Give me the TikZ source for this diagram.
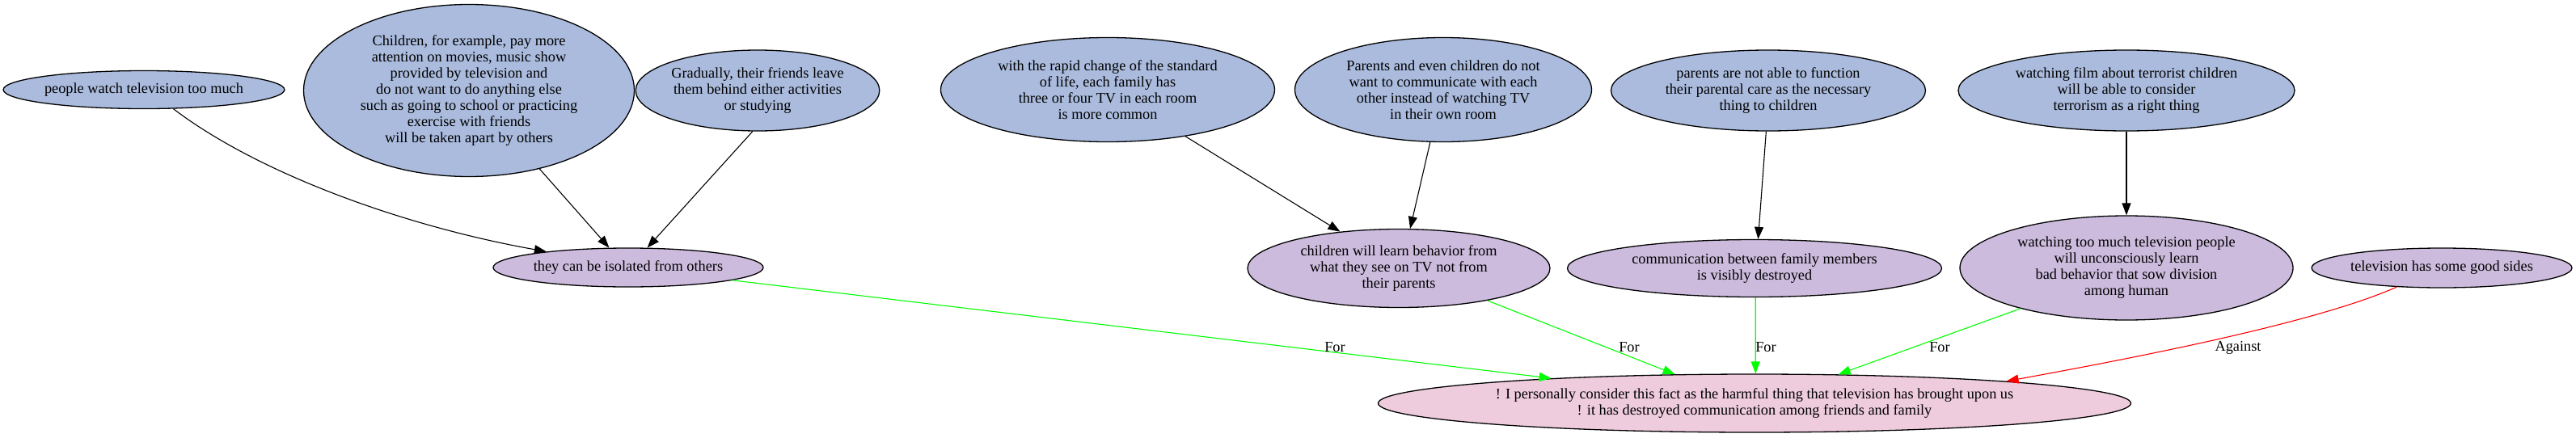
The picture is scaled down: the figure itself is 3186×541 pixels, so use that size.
\documentclass[tikz,border=0pt]{standalone}
\usepackage{fontspec}
\setmainfont{Liberation Serif}
\usetikzlibrary{shapes.geometric,arrows.meta}
\definecolor{nblue}{HTML}{AABBDD}
\definecolor{npurple}{HTML}{CCBBDD}
\definecolor{npink}{HTML}{EECCDD}
\definecolor{egreen}{HTML}{00FF00}
\definecolor{ered}{HTML}{FF0000}
\begin{document}
\begin{tikzpicture}[x=1pt,y=-1pt,
  every node/.style={font=\fontsize{18.3}{20}\selectfont},
  nd/.style={ellipse,draw=black,line width=1.3pt,inner sep=0pt,align=center},
  premise/.style={nd,fill=nblue},
  claim/.style={nd,fill=npurple},
  thesis/.style={nd,fill=npink},
  arr/.style={-{Triangle[length=15pt,width=11pt]},line width=1.1pt},
  forarr/.style={arr,draw=egreen},
  agarr/.style={arr,draw=ered},
  lbl/.style={inner sep=0pt}
]
\useasboundingbox (0,0) rectangle (3186,541);
\node[premise,minimum width=345,minimum height=47] (p1) at (178,111) {people watch television too much};
\node[premise,minimum width=409,minimum height=213] (p2) at (580,112) {Children, for example, pay more\\attention on movies, music show\\provided by television and\\do not want to do anything else\\such as going to school or practicing\\exercise with friends\\will be taken apart by others};
\node[premise,minimum width=256,minimum height=100] (p3) at (937,112) {Gradually, their friends leave\\them behind either activities\\or studying};
\node[premise,minimum width=413,minimum height=129] (p4) at (1370,111) {with the rapid change of the standard\\of life, each family has\\three or four TV in each room\\is more common};
\node[premise,minimum width=367,minimum height=129] (p5) at (1785,111) {Parents and even children do not\\want to communicate with each\\other instead of watching TV\\in their own room};
\node[premise,minimum width=389,minimum height=100] (p6) at (2187,112) {parents are not able to function\\their parental care as the necessary\\thing to children};
\node[premise,minimum width=416,minimum height=100] (p7) at (2630,112) {watching film about terrorist children\\will be able to consider\\terrorism as a right thing};
\node[claim,minimum width=334,minimum height=48] (c1) at (777,331) {they can be isolated from others};
\node[claim,minimum width=374,minimum height=97] (c2) at (1730,332) {children will learn behavior from\\what they see on TV not from\\their parents};
\node[claim,minimum width=463,minimum height=71] (c3) at (2170,332) {communication between family members\\is visibly destroyed};
\node[claim,minimum width=412,minimum height=129] (c4) at (2630,331.5) {watching too much television people\\will unconsciously learn\\bad behavior that sow division\\among human};
\node[claim,minimum width=322,minimum height=49] (c5) at (3020,331.5) {television has some good sides};
\node[thesis,minimum width=931,minimum height=72] (t) at (2170,499) {! I personally consider this fact as the harmful thing that television has brought upon us\\! it has destroyed communication among friends and family};
\draw[arr] (p1.-33) .. controls (320,215) and (500,280) .. (c1.169);
\draw[arr] (p2.-48) -- (c1.134);
\draw[arr] (p3.-97) -- (c1.46);
\draw[arr] (p4.-31.4) -- (c2.148);
\draw[arr] (p5.-104.7) -- (c2.74.4);
\draw[arr] (p6.-93.4) -- (c3.83.6);
\draw[arr] (p7.south) -- (c4.north);
\draw[forarr] (c1.-7.3) -- (t.173.7);
\draw[forarr] (c2.-20.8) -- (t.160.2);
\draw[forarr] (c3.-88) -- (t.88);
\draw[forarr] (c4.-159.5) -- (t.19.6);
\draw[agarr] (c5.-157.8) .. controls (2865,399) and (2650,441) .. (t.5.7);
\node[lbl] (l1) at (1651,430) {For};
\node[lbl] (l2) at (2015,430) {For};
\node[lbl] (l3) at (2184,430) {For};
\node[lbl] (l4) at (2399,430) {For};
\node[lbl] (l5) at (2768,430) {Against};
\end{tikzpicture}
\end{document}
